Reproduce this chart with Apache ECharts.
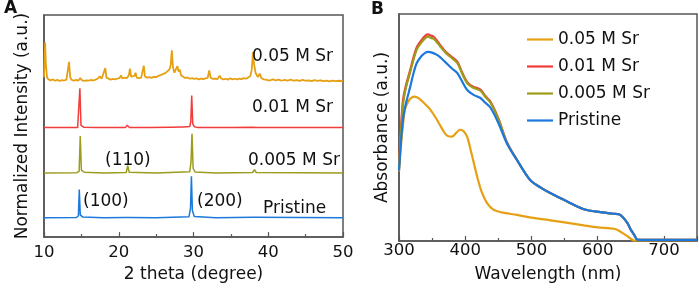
<!DOCTYPE html>
<html>
<head>
<meta charset="utf-8">
<script src="https://cdn.jsdelivr.net/npm/echarts@6/dist/echarts.min.js"></script>
<style>
  html, body { margin: 0; padding: 0; background: #fff; }
  #chart { width: 699px; height: 288px; }
</style>
</head>
<body>
<div id="chart"></div>
<script>
// series names (legend order)
const names = ["0.05 M Sr", "0.01 M Sr", "0.005 M Sr", "Pristine"];
const colors = ["#E5A014", "#F23B3B", "#9B9B1C", "#1C78DC"];

// panel A: XRD, [2 theta, normalized intensity with offset]
const xrdSr005 = [
  [10.0, 72], [10.08, 80], [10.15, 87.7], [10.25, 78], [10.4, 72], [10.6, 71], [10.9, 70.6], [11.2, 71.0],
  [11.5, 70.4], [11.8, 70.8], [12.1, 70.3], [12.4, 70.7], [12.7, 70.5], [13.0, 70.9], [13.2, 71.3],
  [13.35, 78.9], [13.5, 72], [13.7, 70.8], [14.0, 70.5], [14.3, 70.8], [14.6, 70.4], [14.85, 71.6],
  [15.1, 70.6], [15.4, 70.3], [15.7, 70.6], [16.0, 70.4], [16.3, 70.8], [16.6, 70.5], [16.9, 70.9],
  [17.2, 71.4], [17.45, 72.4], [17.7, 71.3], [17.95, 71.2], [18.2, 76.1], [18.35, 71.8], [18.6, 71.0],
  [18.9, 70.9], [19.2, 71.2], [19.5, 71.0], [19.8, 71.4], [20.1, 71.6], [20.3, 72.8], [20.5, 71.4],
  [20.8, 71.8], [21.1, 71.6], [21.35, 72.9], [21.5, 75.8], [21.65, 72.3], [21.9, 72.0], [22.1, 72.6],
  [22.25, 74.0], [22.4, 71.8], [22.7, 71.6], [23.0, 71.8], [23.2, 72.3], [23.35, 77.2], [23.5, 72.3],
  [23.8, 71.8], [24.1, 72.0], [24.4, 71.7], [24.7, 72.2], [25.0, 72.0], [25.3, 72.6], [25.6, 72.9],
  [25.9, 73.4], [26.2, 73.8], [26.5, 74.6], [26.8, 75.6], [26.95, 77.5], [27.1, 84.1], [27.25, 76.5],
  [27.45, 74.0], [27.7, 76.0], [27.85, 77.0], [28.0, 74.5], [28.15, 75.5], [28.35, 72.8], [28.6, 72.0],
  [28.9, 71.6], [29.2, 71.9], [29.5, 71.3], [29.8, 71.6], [30.1, 71.2], [30.4, 71.5], [30.7, 71.0],
  [31.0, 71.4], [31.3, 71.1], [31.6, 71.5], [31.9, 71.7], [32.1, 75.0], [32.3, 71.7], [32.6, 71.2],
  [32.9, 71.4], [33.2, 71.1], [33.5, 72.7], [33.7, 71.4], [34.0, 71.0], [34.3, 71.3], [34.6, 70.9],
  [34.9, 71.5], [35.2, 71.0], [35.5, 71.3], [35.8, 71.0], [36.1, 71.4], [36.4, 71.1], [36.7, 71.6],
  [37.0, 71.3], [37.3, 71.8], [37.6, 72.5], [37.8, 75.5], [37.95, 83.3], [38.1, 78.0], [38.3, 74.0],
  [38.6, 72.0], [38.85, 73.6], [39.1, 71.5], [39.4, 71.0], [39.8, 70.8], [40.2, 70.5], [40.6, 71.0],
  [41.0, 70.6], [41.4, 70.9], [41.8, 70.4], [42.2, 70.8], [42.6, 70.5], [43.0, 70.9], [43.4, 70.4],
  [43.8, 70.7], [44.2, 70.3], [44.6, 70.8], [45.0, 70.4], [45.4, 70.6], [45.8, 70.2], [46.2, 70.7],
  [46.6, 70.3], [47.0, 70.6], [47.4, 70.2], [47.8, 70.5], [48.2, 70.1], [48.6, 70.5], [49.0, 70.2],
  [49.5, 70.4], [50.0, 70.2]
];
const xrdSr001 = [
  [10, 49.3], [12, 49.4], [14.5, 49.3], [14.68, 49.8], [14.8, 67], [14.95, 50.3], [15.3, 49.5], [17, 49.3],
  [20.9, 49.4], [21.15, 50.4], [21.4, 49.4], [24, 49.3], [26.9, 49.5], [27.05, 50.2], [27.2, 49.5],
  [28.3, 49.6], [28.45, 50.4], [28.6, 49.6], [29.5, 49.8], [29.64, 52], [29.76, 63.7], [29.9, 51],
  [30.1, 49.7], [30.5, 49.4], [35, 49.3], [38.0, 49.5], [38.2, 49.9], [38.4, 49.4], [42, 49.3], [50, 49.3]
];
const xrdSr0005 = [
  [10, 28.9], [14.4, 29.0], [14.7, 29.6], [14.85, 45.5], [15.0, 30.2], [15.4, 29.2], [18, 28.9],
  [21.0, 29.1], [21.2, 32.2], [21.4, 29.2], [25, 28.9], [29.5, 29.4], [29.67, 34], [29.8, 46.5],
  [29.95, 31], [30.2, 29.3], [33, 28.9], [37.9, 29.1], [38.15, 30.3], [38.4, 29.1], [50, 28.9]
];
const xrdPristine = [
  [10, 8.7], [14.3, 8.8], [14.6, 9.5], [14.72, 21.4], [14.85, 10], [15.2, 9.0], [18, 8.7], [20.9, 8.8],
  [21.1, 9.7], [21.3, 8.8], [25, 8.7], [29.4, 9.2], [29.6, 13], [29.72, 27.4], [29.85, 12], [30.1, 9.3],
  [33, 8.7], [37.9, 8.9], [38.1, 9.4], [38.3, 8.9], [50, 8.7]
];

// panel B: absorbance, [wavelength nm, absorbance a.u.]
const uvSr005 = [
  [300, 30.7], [303, 42], [306, 51], [309, 58], [314, 61.5], [319, 63.2], [324, 63.6], [330, 62.8],
  [337, 61], [347, 58], [355, 54.5], [362, 51], [368, 48], [374, 46.2], [380, 46], [386, 47.5],
  [392, 49], [397, 48.5], [401, 47], [404, 45], [410, 38], [418, 28.4], [425, 21.5], [433, 16.7],
  [443, 13.7], [455, 12.6], [478, 11.5], [500, 10.3], [529, 9.1], [555, 8], [579, 6.9], [600, 6],
  [625, 5.4], [635, 4], [645, 2.1], [655, 0.2], [665, 0.3], [750, 0.4]
];
const uvSr001 = [
  [300, 33], [303, 50], [306, 62], [310, 68], [317, 75.4], [322, 81], [327, 85.5], [334, 88.5],
  [340, 90.5], [344, 91], [348, 90.5], [352, 90], [356, 88.8], [362, 86.4], [370, 83.5], [380, 81],
  [388, 79], [395, 74.5], [403, 70], [412, 68], [423, 66.7], [430, 64], [438, 61.4], [450, 54],
  [463, 43.5], [478, 35.8], [498, 26.9], [514, 23.5], [529, 21], [554, 17.4], [579, 14], [604, 12.7],
  [624, 12], [632, 11.8], [638, 10.5], [645, 7.9], [650, 5], [655, 2.8], [660, 0.6], [670, 0.5], [750, 0.5]
];
const uvSr0005 = [
  [300, 32], [303, 48], [306, 60], [310, 67], [317, 74.5], [322, 80], [327, 84.5], [334, 87.5],
  [340, 89.5], [344, 90], [348, 89.5], [352, 89.2], [356, 88], [362, 85.8], [370, 83], [380, 80.5],
  [388, 78.5], [395, 74], [403, 69.5], [412, 67.5], [423, 66.2], [430, 63.6], [438, 61], [450, 53.8],
  [463, 43.3], [478, 35.8], [498, 26.9], [514, 23.5], [529, 21], [554, 17.4], [579, 14], [604, 12.7],
  [624, 12], [632, 11.8], [638, 10.5], [645, 7.9], [650, 5], [655, 2.8], [660, 0.6], [670, 0.5], [750, 0.5]
];
const uvPristine = [
  [300, 31], [303, 44], [306, 53.5], [310, 60], [317, 68], [322, 74], [327, 78.5], [334, 81.5],
  [340, 83], [344, 83.3], [350, 83], [356, 82.2], [362, 81], [370, 78.8], [380, 76], [388, 74],
  [395, 70.5], [403, 66.5], [412, 64.5], [423, 63], [430, 61], [438, 58.8], [450, 52], [463, 43],
  [478, 35.7], [498, 26.9], [514, 23.5], [529, 21], [554, 17.4], [579, 14], [604, 12.7], [624, 12],
  [632, 11.8], [638, 10.5], [645, 7.9], [650, 5], [655, 2.8], [660, 0.6], [670, 0.5], [750, 0.5]
];

const xrdData = [xrdSr005, xrdSr001, xrdSr0005, xrdPristine];
const uvData = [uvSr005, uvSr001, uvSr0005, uvPristine];

const FONT = "DejaVu Sans";
const axisColor = "#555";

let myChart = echarts.init(document.getElementById("chart"), null, { renderer: "canvas" });

function xAxisBase(gridIndex) {
  return {
    type: "value",
    gridIndex: gridIndex,
    nameLocation: "middle",
    nameTextStyle: { fontFamily: FONT, fontSize: 17, color: "#111" },
    axisLine: { show: true, lineStyle: { color: axisColor, width: 1.5 } },
    axisTick: { show: true, inside: true, length: 5, lineStyle: { color: axisColor, width: 1.2 } },
    minorTick: { show: true, splitNumber: 2, length: 3, lineStyle: { color: axisColor, width: 1.2 } },
    splitLine: { show: false },
    axisLabel: { fontFamily: FONT, fontSize: 16.5, color: "#111" }
  };
}
function yAxisBase(gridIndex, name, gap) {
  return {
    type: "value",
    gridIndex: gridIndex,
    min: 0,
    max: 100,
    name: name,
    nameLocation: "middle",
    nameGap: gap,
    nameTextStyle: { fontFamily: FONT, fontSize: 17, color: "#111" },
    axisLine: { show: true, lineStyle: { color: axisColor, width: 1.5 } },
    axisTick: { show: false },
    axisLabel: { show: false },
    splitLine: { show: false }
  };
}

const xA = Object.assign(xAxisBase(0), {
  min: 10, max: 50, interval: 10,
  name: "2 theta (degree)", nameGap: 25
});
xA.axisLabel.margin = 7;
const xB = Object.assign(xAxisBase(1), {
  min: 300, max: 750, interval: 100,
  name: "Wavelength (nm)", nameGap: 25
});
xB.axisLabel.margin = 1;
xB.axisLabel.showMaxLabel = false;

const series = [];
xrdData.forEach((d, i) => {
  series.push({
    type: "line",
    xAxisIndex: 0, yAxisIndex: 0,
    data: d,
    symbol: "none",
    silent: true,
    lineStyle: { color: colors[i], width: i === 0 ? 1.8 : 1.5 },
    itemStyle: { color: colors[i] }
  });
});
uvData.forEach((d, i) => {
  series.push({
    name: names[i],
    type: "line",
    xAxisIndex: 1, yAxisIndex: 1,
    data: d,
    symbol: "none",
    smooth: 0.3,
    lineStyle: { color: colors[i], width: 2.2 },
    itemStyle: { color: colors[i] }
  });
});

function label(text, left, cy, size, bold) {
  return {
    type: "text",
    left: left,
    top: cy - size / 2,
    z: 50,
    style: {
      text: text,
      fill: "#111",
      font: (bold ? "bold " : "") + size + "px '" + FONT + "'"
    }
  };
}

myChart.setOption({
  animation: false,
  grid: [
    { left: 44, right: 356, top: 15, bottom: 46, show: true, borderColor: axisColor, borderWidth: 1.5 },
    { left: 399, right: 2, top: 14, bottom: 46, show: true, borderColor: axisColor, borderWidth: 1.5 }
  ],
  xAxis: [xA, xB],
  yAxis: [yAxisBase(0, "Normalized Intensity (a.u.)", 13), yAxisBase(1, "Absorbance (a.u.)", 8)],
  legend: {
    data: names,
    orient: "vertical",
    left: 522,
    top: 26,
    icon: "rect",
    itemWidth: 26,
    itemHeight: 2.2,
    itemGap: 10,
    textStyle: { fontFamily: FONT, fontSize: 17, color: "#111" }
  },
  series: series,
  graphic: [
    label("A", 4, 9, 17, true),
    label("B", 371, 10, 17, true),
    label("0.05 M Sr", 252, 57, 17),
    label("0.01 M Sr", 252, 108, 17),
    label("0.005 M Sr", 248, 161, 17),
    label("Pristine", 263, 209, 17),
    label("(110)", 105, 161, 17),
    label("(100)", 83, 202, 17),
    label("(200)", 197, 202, 17)
  ]
});
</script>
</body>
</html>
